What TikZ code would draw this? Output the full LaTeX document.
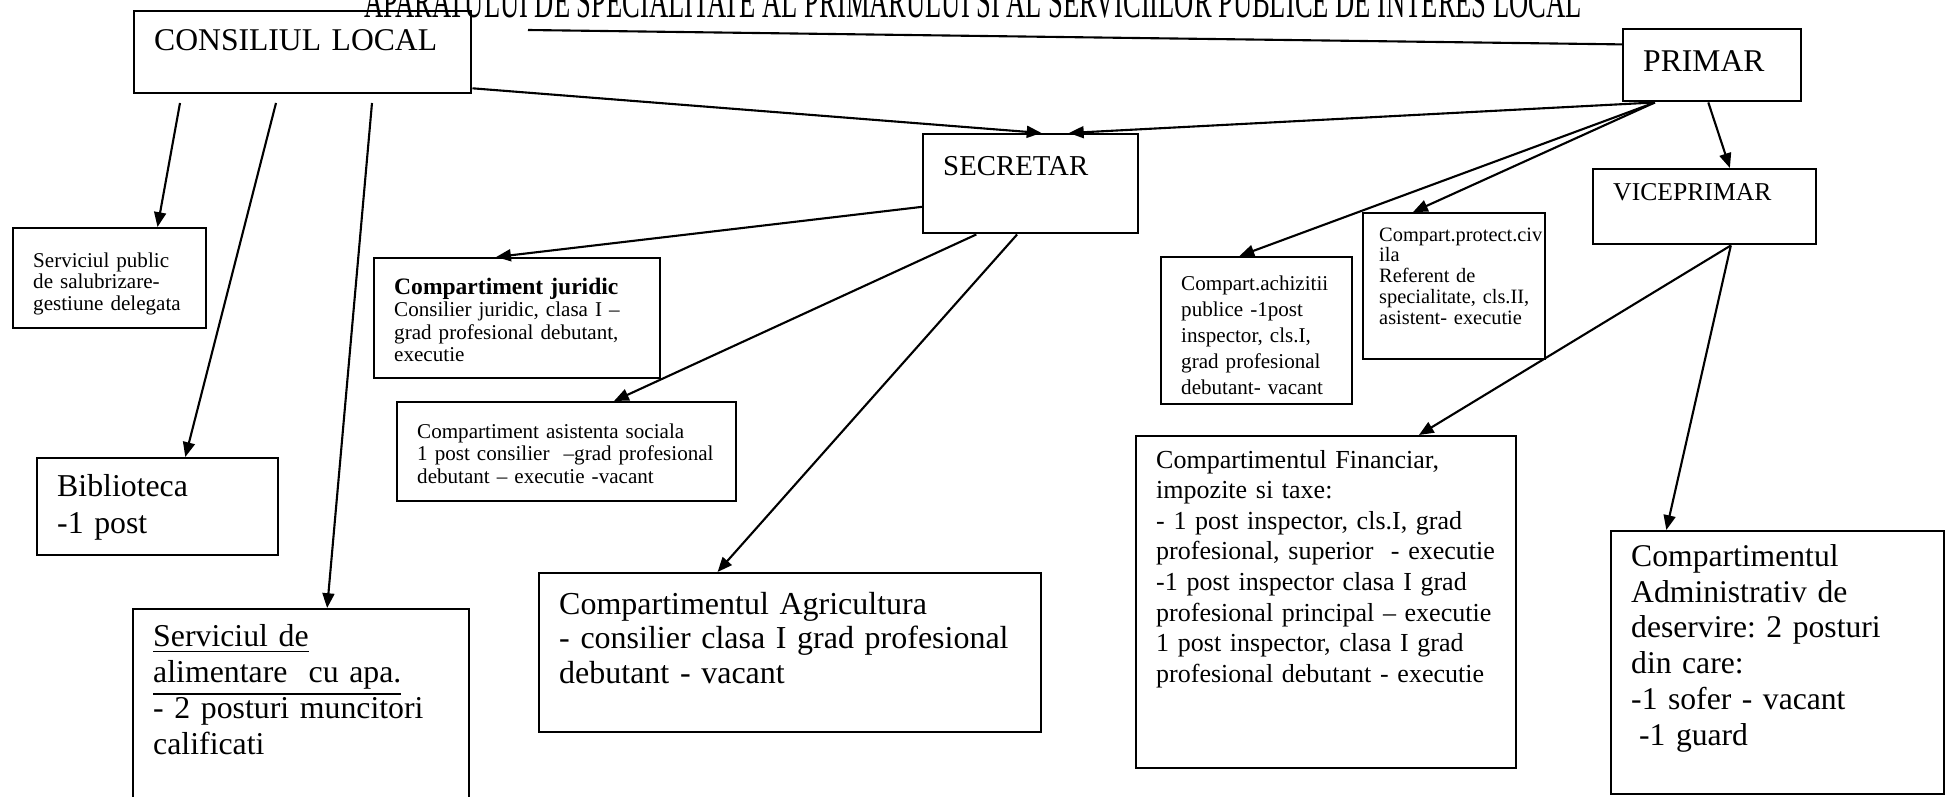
\documentclass[tikz,border=0pt]{standalone}
\usepackage{fontspec}
\setmainfont{Liberation Serif}
\usepackage{tikz}
\usetikzlibrary{arrows.meta}
\frenchspacing

\newcommand{\fs}[2]{\fontsize{#1}{#2}\selectfont}

\begin{document}
\begin{tikzpicture}[
    box/.style={draw, line width=0.7pt, anchor=north west, inner xsep=0.2cm, inner ysep=0pt, align=left},
    leg/.style={-{Triangle[length=4.2pt,width=3.4pt]}, line width=0.6pt},
  ]
  \useasboundingbox (0,0) rectangle (19.47,7.96);

  % titlul (taiat sus)
  \node[anchor=base, inner sep=0pt, font=\fs{7.55}{8}] (titlu) at (9.73,7.78)
    {\scalebox{1}[1.8]{APARATULUI DE SPECIALITATE AL PRIMARULUI SI AL SERVICIILOR PUBLICE DE INTERES LOCAL}};

  % conducere
  \node[box, font=\fs{9}{10}, text width=2.97cm, text height=0.39cm, text depth=0.43cm] (cons) at (1.33,7.86) {CONSILIUL LOCAL};
  \node[box, font=\fs{9}{10}, text width=1.38cm, text height=0.42cm, text depth=0.30cm] (primar) at (16.22,7.68) {PRIMAR};
  \node[box, font=\fs{8.2}{9}, text width=1.75cm, text height=0.41cm, text depth=0.58cm] (secr) at (9.22,6.63) {SECRETAR};
  \node[box, font=\fs{7.3}{8}, text width=1.83cm, text height=0.31cm, text depth=0.44cm] (vice) at (15.92,6.28) {VICEPRIMAR};

  % compartimente
  \node[box, font=\fs{6}{6.1}, text width=1.53cm, text height=0.39cm, text depth=0.61cm] (serv) at (0.12,5.69)
    {Serviciul public\\ de salubrizare-\\ gestiune delegata};
  \node[box, font=\fs{6}{6.4}, text width=2.46cm, text height=0.36cm, text depth=0.84cm] (jur) at (3.73,5.39)
    {{\fs{6.7}{6.4}\bfseries Compartiment juridic}\\ Consilier juridic, clasa I –\\ grad profesional debutant,\\ executie};
  \node[box, font=\fs{6}{6.4}, text width=2.99cm, text height=0.36cm, text depth=0.63cm] (asist) at (3.96,3.95)
    {Compartiment asistenta sociala\\ 1 post consilier~ –grad profesional\\ debutant – executie -vacant};
  \node[box, font=\fs{9.05}{10.5}, text width=2.01cm, text height=0.38cm, text depth=0.59cm] (bibl) at (0.36,3.39)
    {Biblioteca\\ -1 post};
  \node[box, font=\fs{9.05}{10.3}, text width=2.96cm, text height=0.37cm, text depth=1.85cm] (apa) at (1.32,1.88)
    {\underline{Serviciul de}\\ \underline{alimentare~ cu apa.}\\ - 2 posturi muncitori\\ calificati};
  \node[box, font=\fs{9.1}{9.8}, text width=4.62cm, text height=0.41cm, text depth=1.18cm] (agri) at (5.38,2.24)
    {Compartimentul Agricultura\\ - consilier clasa I grad profesional\\ debutant - vacant};
  \node[box, font=\fs{6}{7.4}, text width=1.51cm, text height=0.33cm, text depth=1.14cm] (achiz) at (11.60,5.40)
    {Compart.achizitii\\ publice -1post\\ inspector, cls.I,\\ grad profesional\\ debutant- vacant};
  \node[box, inner xsep=0.16cm, font=\fs{5.8}{5.9}, text width=1.50cm, text height=0.28cm, text depth=1.18cm] (protect) at (13.62,5.84)
    {Compart.protect.civ\\ ila\\ Referent de\\ specialitate, cls.II,\\ asistent- executie};
  \node[box, font=\fs{7.4}{8.7}, text width=3.40cm, text height=0.32cm, text depth=3.00cm] (fin) at (11.35,3.61)
    {Compartimentul Financiar,\\ impozite si taxe:\\ - 1 post inspector, cls.I, grad\\ profesional, superior~ - executie\\ -1 post inspector clasa I grad\\ profesional principal – executie\\ 1 post inspector, clasa I grad\\ profesional debutant - executie};
  \node[box, font=\fs{9}{10.2}, text width=2.93cm, text height=0.35cm, text depth=2.28cm] (admin) at (16.10,2.66)
    {Compartimentul\\ Administrativ de\\ deservire: 2 posturi\\ din care:\\ -1 sofer - vacant\\ \hspace*{0.25em}-1 guard};

  % capete libere
  \coordinate (t1) at (5.28,7.66);
  \coordinate (c1) at (1.80,6.93);
  \coordinate (c2) at (2.76,6.93);
  \coordinate (c3) at (3.72,6.93);

  % legaturi
  \draw[line width=0.6pt] (t1) -- (primar.167);
  \draw[leg] (c1) -- (serv.47);
  \draw[leg] (c2) -- (bibl.61);
  \draw[leg] (c3) -- (apa.77);
  \draw[leg] (cons.348) -- (secr.78);
  \draw[leg] (primar.213) -- (secr.53);
  \draw[leg] (secr.192) -- (jur.109);
  \draw[leg] (secr.223) -- (asist.47);
  \draw[leg] (secr.255) -- (agri.132);
  \draw[leg] (primar.213) -- (achiz.103);
  \draw[leg] (primar.213) -- (protect.119);
  \draw[leg] (primar.264) -- (vice.57);
  \draw[leg] (vice.304) -- (fin.61);
  \draw[leg] (vice.304) -- (admin.130);
\end{tikzpicture}
\end{document}
